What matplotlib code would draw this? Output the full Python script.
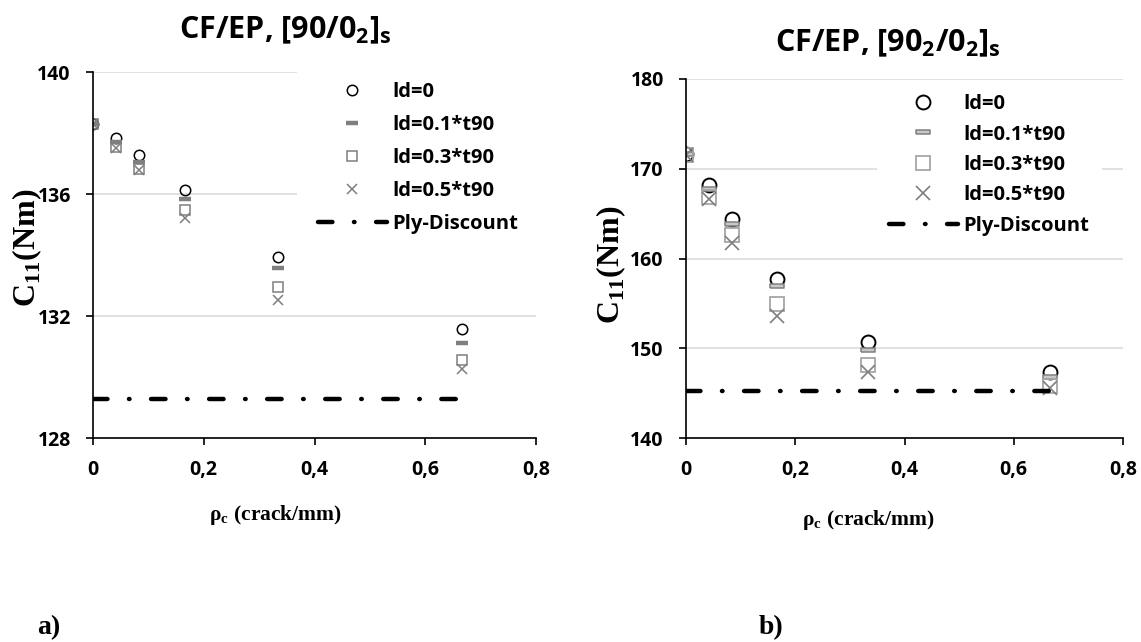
import matplotlib
matplotlib.use('Agg')
import matplotlib.pyplot as plt

plt.rcParams['font.family'] = ['Open Sans', 'DejaVu Sans']
plt.rcParams['font.weight'] = 'bold'
plt.rcParams['mathtext.fontset'] = 'custom'
plt.rcParams['mathtext.rm'] = 'Liberation Serif:bold'
plt.rcParams['mathtext.sf'] = 'Open Sans:bold'
plt.rcParams['lines.scale_dashes'] = False

# ============================== Data ============================== #
# crack density rho_c (crack/mm)
rho = [0.0, 0.0417, 0.0833, 0.1667, 0.3333, 0.6667]

# a) CF/EP [90/0_2]s
a_ld0 = [138.30, 137.82, 137.28, 136.14, 133.95, 131.58]
a_ld01 = [138.30, 137.72, 137.06, 135.85, 133.57, 131.11]
a_ld03 = [138.30, 137.54, 136.83, 135.48, 132.96, 130.57]
a_ld05 = [138.30, 137.52, 136.80, 135.22, 132.53, 130.25]
a_ply = 129.28

# b) CF/EP [90_2/0_2]s
b_ld0 = [171.6, 168.2, 164.4, 157.75, 150.65, 147.4]
b_ld01 = [171.6, 167.7, 163.8, 156.9, 149.8, 146.75]
b_ld03 = [171.5, 166.9, 162.6, 154.9, 148.1, 145.8]
b_ld05 = [171.5, 166.6, 161.7, 153.6, 147.3, 145.6]
b_ply = 145.27

series_labels = ['ld=0', 'ld=0.1*t90', 'ld=0.3*t90', 'ld=0.5*t90', 'Ply-Discount']
x_ticks = [0, 0.2, 0.4, 0.6, 0.8]
x_ticklabels = ['0', '0,2', '0,4', '0,6', '0,8']
a_yticks = [128, 132, 136, 140]
b_yticks = [140, 150, 160, 170, 180]

W, H = 1141, 642
fig = plt.figure(figsize=(W / 100, H / 100), dpi=100)


def px(x, y):
    # pixel position -> figure fraction
    return x / W, 1 - y / H


PLY_DASH = (0, (10.4, 15.5, 0.4, 15.5))
bar = [(-1, -0.22), (1, -0.22), (1, 0.22), (-1, 0.22), (-1, -0.22)]


def setup_axes(ax, yticks):
    ax.set_xlim(0, 0.8)
    ax.set_ylim(yticks[0], yticks[-1])
    ax.set_xticks(x_ticks)
    ax.set_xticklabels(x_ticklabels)
    ax.set_yticks(yticks)
    ax.grid(axis='y', color='#d9d9d9', lw=1.1)
    ax.set_axisbelow(True)
    for s in ['top', 'right']:
        ax.spines[s].set_visible(False)
    for s in ['left', 'bottom']:
        ax.spines[s].set_linewidth(1.2)
    ax.tick_params(direction='out', length=5, width=1.2, labelsize=14, pad=11)
    ax.patch.set_alpha(0)


def draw(ax, ld0, ld01, ld03, ld05, ply, big):
    if big:
        ax.plot(rho, ld0, ls='none', marker='o', ms=10, mfc='none', mec='black', mew=1.4)
        ax.plot(rho, ld01, ls='none', marker=bar, ms=10, mfc='#c8c8c8', mec='#7f7f7f', mew=1.1)
        ax.plot(rho, ld03, ls='none', marker='s', ms=10.5, mfc='none', mec='#a6a6a6', mew=1.3)
        ax.plot(rho, ld05, ls='none', marker='x', ms=10, mec='#7f7f7f', mew=1.2)
    else:
        ax.plot(rho, ld0, ls='none', marker='o', ms=7.5, mfc='none', mec='black', mew=1.1)
        ax.plot(rho, ld01, ls='none', marker='_', ms=9, mec='#7f7f7f', mew=3.2)
        ax.plot(rho, ld03, ls='none', marker='s', ms=7.5, mfc='none', mec='#7f7f7f', mew=1.1)
        ax.plot(rho, ld05, ls='none', marker='x', ms=7.5, mec='#7f7f7f', mew=1.1)
    ax.plot([rho[0], rho[-1]], [ply, ply], color='black', lw=3.2,
            ls=PLY_DASH, dash_capstyle='round')


# ------------------------------ a) ------------------------------ #
ax1 = fig.add_axes([93 / W, 1 - 438 / H, (536 - 93) / W, (438 - 72) / H])
setup_axes(ax1, a_yticks)
draw(ax1, a_ld0, a_ld01, a_ld03, a_ld05, a_ply, big=False)
ax1.legend(ax1.get_lines(), series_labels, loc='center left',
           bbox_to_anchor=px(297, 158), bbox_transform=fig.transFigure,
           fontsize=14.5, handlelength=3.4, handletextpad=0.3,
           labelspacing=0.64, borderpad=1.05, borderaxespad=0, numpoints=1,
           frameon=True, fancybox=False, edgecolor='none',
           facecolor='white', framealpha=1)

# ------------------------------ b) ------------------------------ #
ax2 = fig.add_axes([686 / W, 1 - 438 / H, (1123 - 686) / W, (438 - 79) / H])
setup_axes(ax2, b_yticks)
draw(ax2, b_ld0, b_ld01, b_ld03, b_ld05, b_ply, big=True)
ax2.legend(ax2.get_lines(), series_labels, loc='center left',
           bbox_to_anchor=px(877, 165), bbox_transform=fig.transFigure,
           fontsize=14.5, handlelength=3.4, handletextpad=0.3,
           labelspacing=0.52, borderpad=0.6, borderaxespad=0, numpoints=1,
           frameon=True, fancybox=False, edgecolor='none',
           facecolor='white', framealpha=1)

# titles, axis labels, panel letters
fig.text(*px(285, 30), r'CF/EP, [90/0$_\mathsf{2}$]$_\mathsf{s}$',
         fontsize=22, ha='center', va='center')
fig.text(*px(888, 43), r'CF/EP, [90$_\mathsf{2}$/0$_\mathsf{2}$]$_\mathsf{s}$',
         fontsize=22, ha='center', va='center')

for (x, y) in [(27, 248), (611, 265)]:
    fig.text(*px(x, y), r'C$_{\mathrm{11}}$(Nm)', family='Liberation Serif',
             fontsize=23, rotation=90, ha='center', va='center')
for (x, y) in [(275, 515), (868, 520)]:
    fig.text(*px(x, y), r'ρ$_{\mathrm{c}}$ (crack/mm)', family='Liberation Serif',
             fontsize=15.5, ha='center', va='center')

fig.text(*px(49, 628), 'a)', family='Liberation Serif', fontsize=20,
         ha='center', va='center')
fig.text(*px(771, 628), 'b)', family='Liberation Serif', fontsize=20,
         ha='center', va='center')

fig.savefig('out.png', dpi=100)
